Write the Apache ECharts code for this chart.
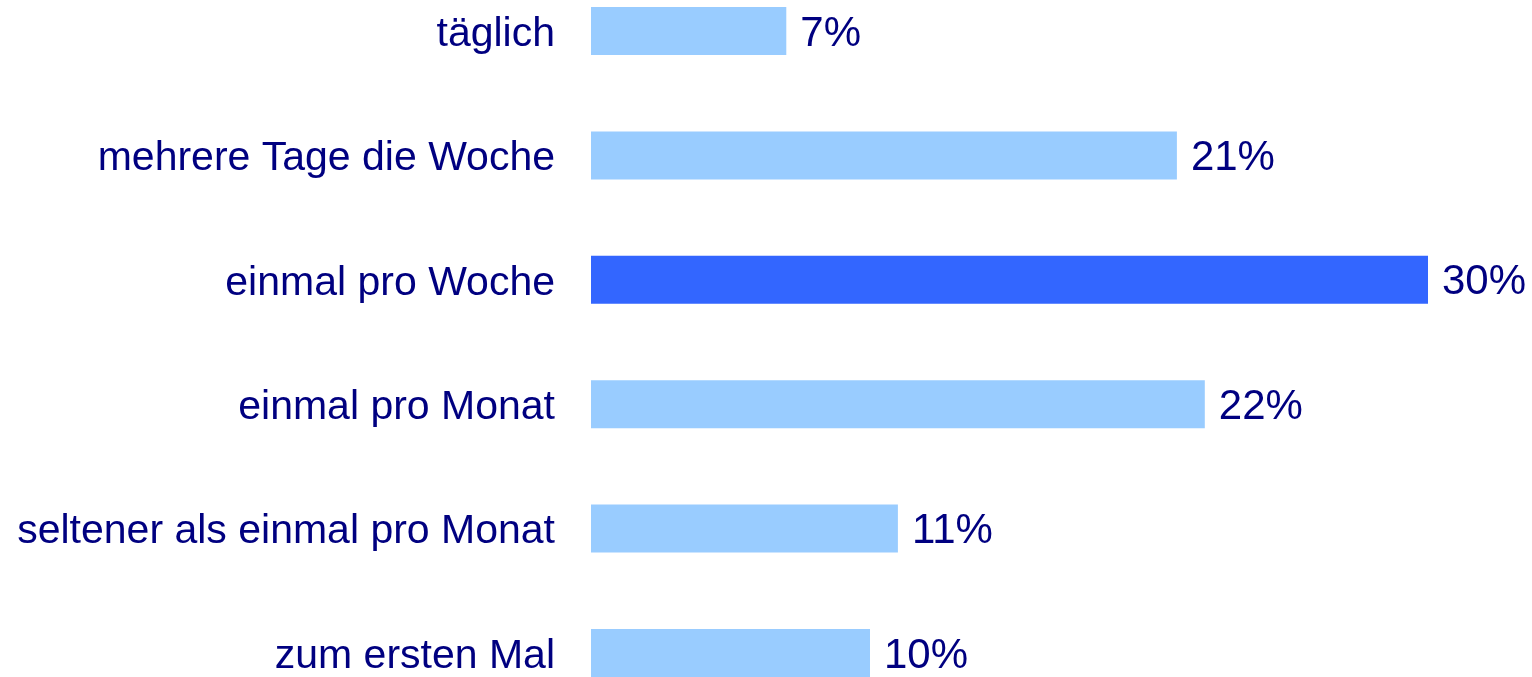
<!DOCTYPE html>
<html>
<head>
<meta charset="utf-8">
<style>html,body{margin:0;padding:0;background:#fff;}#c{width:1532px;height:677px;}</style>
<script src="https://cdn.jsdelivr.net/npm/echarts@6/dist/echarts.min.js"></script>
</head>
<body>
<div id="c"></div>
<script>
const categories = ['täglich', 'mehrere Tage die Woche', 'einmal pro Woche', 'einmal pro Monat', 'seltener als einmal pro Monat', 'zum ersten Mal'];
const values = [7, 21, 30, 22, 11, 10];
const highlightIndex = 2;

const chart = echarts.init(document.getElementById('c'));
const FONT = 'Liberation Sans';
chart.setOption({
  animation: false,
  grid: { left: 591, right: 104, top: 31, bottom: 24, containLabel: false },
  xAxis: { type: 'value', min: 0, max: 30, show: false },
  yAxis: {
    type: 'category', data: categories, inverse: true, boundaryGap: false,
    axisLine: { show: false }, axisTick: { show: false }, splitLine: { show: false },
    axisLabel: {
      margin: 36, color: '#000080', fontSize: 41, fontFamily: FONT,
      formatter: v => '{a|' + v + '}',
      rich: { a: { color: '#000080', fontSize: 41, fontFamily: FONT, padding: [7, 0, 0, 0] } }
    }
  },
  series: [{
    type: 'bar', barWidth: 48,
    data: values.map((v, i) => ({ value: v, itemStyle: { color: i === highlightIndex ? '#3366FF' : '#99CCFF' } })),
    label: { show: true, position: 'right', distance: 14, offset: [0, 3], formatter: '{c}%', color: '#000080', fontSize: 42, fontFamily: FONT }
  }]
});
</script>
</body>
</html>
